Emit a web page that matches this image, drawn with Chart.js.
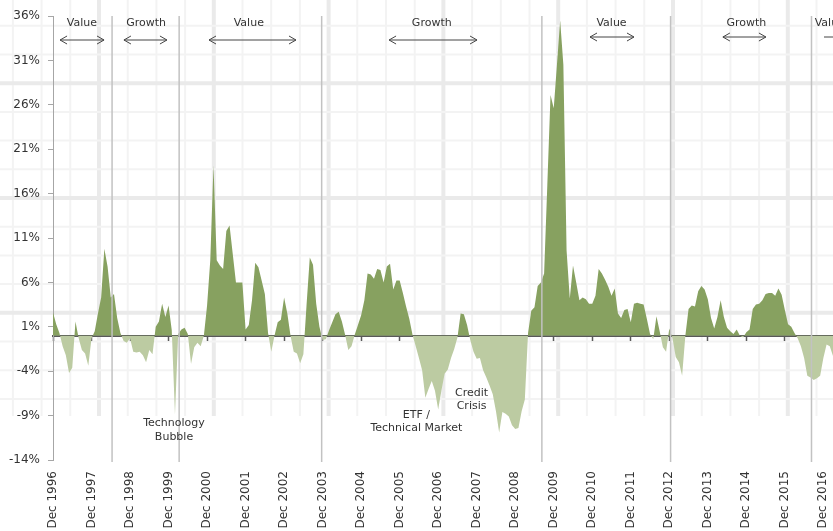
<!DOCTYPE html>
<html>
<head>
<meta charset="utf-8">
<script src="https://cdn.jsdelivr.net/npm/chart.js@4/dist/chart.umd.min.js"></script>
<style>
  html, body { margin: 0; padding: 0; background: #fff; }
  #wrap { width: 833px; height: 531px; position: relative; }
</style>
</head>
<body>
<div id="wrap"><canvas id="styleChart"></canvas></div>
<script>
// monthly series, Dec 1996 .. Mar 2017 (value minus growth, %)
const firstYear = 1996;
const monthNames = ['Jan','Feb','Mar','Apr','May','Jun','Jul','Aug','Sep','Oct','Nov','Dec'];
const excessReturn = [
  2.6,
  1.3, 0.3, -1.2, -2.2, -4.2, -3.6, 1.6, -0.3, -1.6, -2.0, -3.4, -0.3,
  0.5, 2.5, 4.3, 9.8, 7.8, 4.3, 4.7, 2.0, 0.3, -0.6, -0.8, -0.3,
  -1.8, -1.9, -1.8, -2.2, -3.0, -1.6, -2.1, 1.0, 1.6, 3.6, 2.1, 3.4,
  0.6, -8.9, 0.2, 0.7, 0.9, 0.2, -3.2, -1.3, -0.8, -1.2, 0.0, 3.4,
  8.5, 19.2, 8.5, 7.9, 7.5, 11.8, 12.4, 9.2, 6.0, 6.0, 6.0, 0.7,
  1.2, 4.0, 8.2, 7.7, 6.2, 4.7, 0.3, -1.8, 0.0, 1.5, 1.8, 4.3,
  2.5, 0.0, -1.8, -2.0, -3.1, -2.1, 3.5, 8.8, 8.0, 3.6, 1.0, -0.5,
  -0.4, 0.6, 1.5, 2.4, 2.7, 1.6, 0.1, -1.6, -1.2, 0.1, 1.2, 2.3,
  4.0, 7.0, 6.9, 6.4, 7.5, 7.4, 6.0, 7.8, 8.1, 5.2, 6.2, 6.2,
  4.8, 3.3, 1.9, 0.1, -1.2, -2.5, -3.9, -7.0, -6.0, -5.1, -6.2, -8.3,
  -6.2, -4.3, -3.8, -2.5, -1.5, -0.2, 2.5, 2.4, 1.2, -0.5, -1.8, -2.6,
  -2.5, -3.9, -4.7, -5.6, -6.6, -8.5, -10.9, -8.6, -8.8, -9.1, -10.1, -10.5,
  -10.4, -8.5, -7.2, 0.3, 2.8, 3.2, 5.6, 6.0, 7.0, 17.0, 27.1, 25.6,
  30.5, 35.5, 30.5, 9.6, 4.2, 7.9, 6.0, 4.0, 4.3, 4.1, 3.6, 3.6,
  4.5, 7.5, 7.0, 6.3, 5.5, 4.5, 5.3, 2.5, 2.0, 2.9, 3.0, 1.5,
  3.6, 3.7, 3.6, 3.5, 1.9, 0.2, -0.4, 2.2, 0.5, -1.3, -1.8, 0.8,
  -0.3, -2.4, -3.0, -4.5, 0.0, 3.0, 3.4, 3.3, 5.0, 5.6, 5.2, 4.1,
  2.0, 0.8, 2.1, 4.0, 2.1, 0.9, 0.5, 0.2, 0.7, 0.0, -0.2, 0.4,
  0.7, 3.0, 3.5, 3.6, 4.0, 4.7, 4.8, 4.8, 4.5, 5.3, 4.6, 2.9,
  1.3, 1.0, 0.3, -0.3, -1.2, -2.5, -4.5, -4.7, -5.0, -4.8, -4.5, -2.5,
  -1.0, -1.2, -2.3
];
const yTickValues = [-14, -9, -4, 1, 6, 11, 16, 21, 26, 31, 36];

// style regime changes, in months from Dec 1996
const regimeBreaks = [18.4, 39.3, 83.7, 152.3, 192.4, 236.3];
const styleNames = ['Value', 'Growth', 'Value', 'Growth', 'Value', 'Growth', 'Value'];
const styleFrom = [2.2, 22.1, 48.6, 104.7, 167.3, 208.7, 240.2];
const styleTo = [15.9, 35.5, 75.7, 132.1, 181.0, 222.1, 256.0];
const styleTextAt = [9, 29, 61, 118, 174, 216, 242];
const eventText = [['Technology', 'Bubble'], ['ETF /', 'Technical Market'], ['Credit', 'Crisis']];
const eventAt = [37.7, 113.2, 130.4];
const eventLevel = [-9.9, -8.9, -6.5];

const labels = excessReturn.map((v, i) => {
  const k = 11 + i;
  return monthNames[k % 12] + ' ' + (firstYear + Math.floor(k / 12));
});

Chart.defaults.font.family = "'DejaVu Sans', Verdana, sans-serif";
Chart.defaults.font.size = 12;
Chart.defaults.color = '#333';

// graph-paper backdrop
const paper = {
  id: 'paper',
  beforeDraw(chart) {
    const ctx = chart.ctx, w = chart.width;
    const step = 28.7, bottom = 416;
    ctx.save();
    ctx.fillStyle = '#fff';
    ctx.fillRect(0, 0, w, chart.height);
    for (let k = -4; k < 30; k++) {
      const x = 99 + k * step;
      if (x < -4 || x > w + 4) continue;
      const thick = k % 4 === 0;
      ctx.strokeStyle = thick ? '#eaeaea' : '#f3f3f3';
      ctx.lineWidth = thick ? 4 : 2;
      ctx.beginPath(); ctx.moveTo(x, 0); ctx.lineTo(x, bottom); ctx.stroke();
    }
    for (let k = -8; k < 8; k++) {
      const y = 198 + k * step;
      if (y < -4 || y > bottom) continue;
      const thick = k % 4 === 0;
      ctx.strokeStyle = thick ? '#eaeaea' : '#f3f3f3';
      ctx.lineWidth = thick ? 4 : 2;
      ctx.beginPath(); ctx.moveTo(0, y); ctx.lineTo(w, y); ctx.stroke();
    }
    ctx.restore();
  }
};

function arrow(ctx, x1, x2, y, heads) {
  ctx.beginPath();
  ctx.moveTo(x1, y); ctx.lineTo(x2, y);
  if (heads) {
    ctx.moveTo(x1 + 7, y - 4); ctx.lineTo(x1, y); ctx.lineTo(x1 + 7, y + 4);
    ctx.moveTo(x2 - 7, y - 4); ctx.lineTo(x2, y); ctx.lineTo(x2 - 7, y + 4);
  }
  ctx.stroke();
}

const notes = {
  id: 'notes',
  afterDraw(chart) {
    const ctx = chart.ctx, area = chart.chartArea;
    const xs = chart.scales.x, ys = chart.scales.y;
    ctx.save();
    ctx.strokeStyle = '#c2c2c2';
    ctx.lineWidth = 1.5;
    regimeBreaks.forEach(m => {
      const x = xs.getPixelForValue(m);
      ctx.beginPath(); ctx.moveTo(x, area.top); ctx.lineTo(x, area.bottom + 2); ctx.stroke();
    });
    ctx.font = "11px 'DejaVu Sans', Verdana, sans-serif";
    ctx.fillStyle = '#333';
    ctx.textAlign = 'center';
    ctx.textBaseline = 'middle';
    ctx.strokeStyle = '#444';
    ctx.lineWidth = 1;
    styleNames.forEach((name, i) => {
      ctx.fillText(name, xs.getPixelForValue(styleTextAt[i]), area.top + 7);
      const x1 = xs.getPixelForValue(styleFrom[i]), x2 = xs.getPixelForValue(styleTo[i]);
      arrow(ctx, x1, x2, area.top + (i < 4 ? 24 : 21), x2 <= chart.width);
    });
    eventText.forEach((lines, i) => {
      const x = xs.getPixelForValue(eventAt[i]);
      const y = ys.getPixelForValue(eventLevel[i]);
      lines.forEach((t, j) => ctx.fillText(t, x, y + j * 13.2));
    });
    ctx.restore();
  }
};

new Chart(document.getElementById('styleChart'), {
  type: 'line',
  data: {
    labels: labels,
    datasets: [{
      data: excessReturn,
      borderWidth: 0,
      pointRadius: 0,
      tension: 0,
      fill: { target: 'origin', above: '#87a160', below: '#bccba2' },
      backgroundColor: '#87a160'
    }]
  },
  options: {
    responsive: true,
    maintainAspectRatio: false,
    animation: false,
    layout: { padding: { top: 16, right: 0, left: 0, bottom: 0 } },
    plugins: { legend: { display: false }, tooltip: { enabled: false } },
    scales: {
      x: {
        type: 'category',
        position: 'bottom',
        grid: { display: false, drawTicks: false },
        border: { display: false },
        ticks: {
          autoSkip: false, minRotation: 90, maxRotation: 90, padding: 11, color: '#333',
          callback: (v, i) => (i % 12 === 0 ? labels[i] : '')
        },
        afterFit: s => { s.height = 71; s.paddingLeft = 0; s.paddingRight = 0; }
      },
      zero: {
        type: 'category',
        axis: 'x',
        position: { y: 0 },
        z: 1,
        grid: {
          drawOnChartArea: false, drawTicks: true, tickLength: 4, tickWidth: 1.5,
          tickColor: c => (c.index % 12 === 0 ? '#595959' : 'rgba(0,0,0,0)')
        },
        border: { display: true, color: '#595959', width: 2 },
        ticks: { display: false, autoSkip: false },
        afterFit: s => { s.paddingLeft = 0; s.paddingRight = 0; }
      },
      y: {
        min: -14,
        max: 36,
        afterBuildTicks: s => { s.ticks = yTickValues.map(v => ({ value: v })); },
        ticks: { padding: 8, color: '#333', callback: v => v + '%' },
        grid: { drawOnChartArea: false, tickLength: 5, tickColor: '#a6a6a6', color: '#a6a6a6' },
        border: { color: '#a6a6a6', width: 1 },
        afterFit: s => { s.width = 53; }
      }
    }
  },
  plugins: [paper, notes]
});
</script>
</body>
</html>
